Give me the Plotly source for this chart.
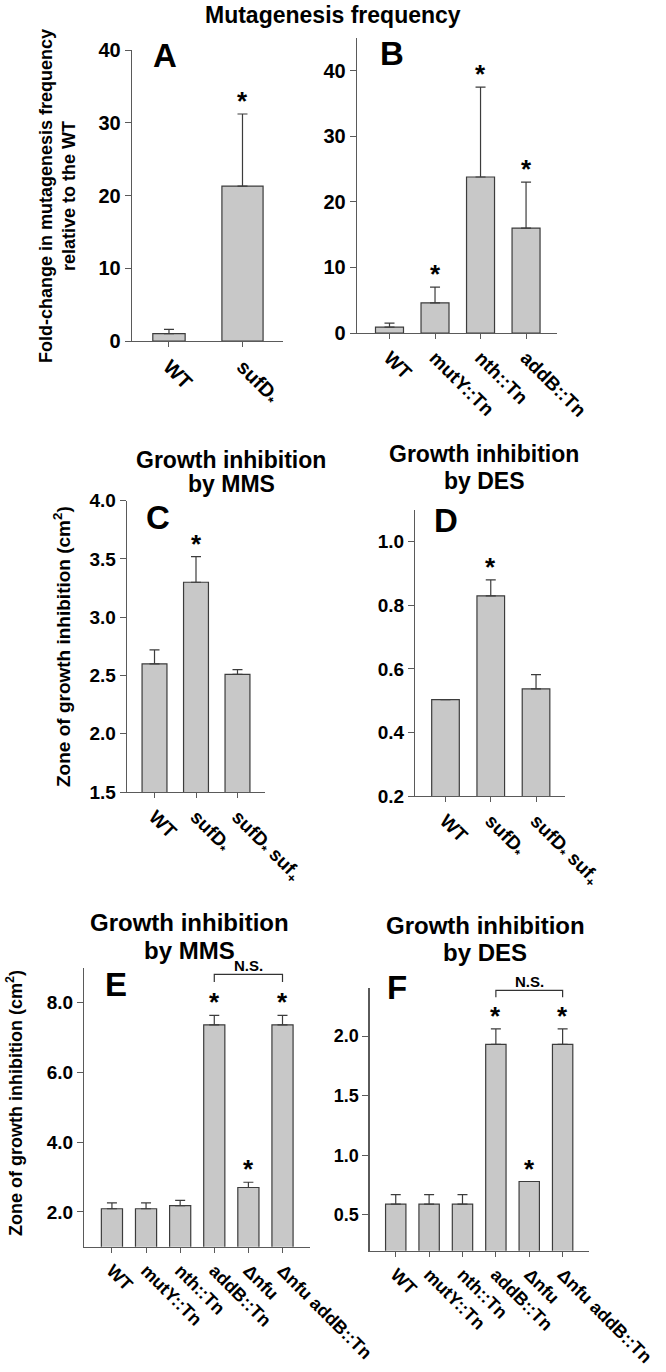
import plotly.graph_objects as go

W, H = 666, 1372

# ---------------- data ----------------
a_cats = ["WT", "sufD<sub>*</sub>"]
a_vals = [1.0, 21.3]
a_errs = [0.6, 9.9]
a_sig = [False, True]

b_cats = ["WT", "mutY::Tn", "nth::Tn", "addB::Tn"]
b_vals = [0.9, 4.6, 23.8, 16.0]
b_errs = [0.6, 2.4, 13.7, 7.0]
b_sig = [False, True, True, True]

c_cats = ["WT", "sufD<sub>*</sub>", "sufD<sub>*</sub> suf<sub>+</sub>"]
c_vals = [2.60, 3.30, 2.51]
c_errs = [0.12, 0.22, 0.04]
c_sig = [False, True, False]

d_cats = ["WT", "sufD<sub>*</sub>", "sufD<sub>*</sub> suf<sub>+</sub>"]
d_vals = [0.503, 0.83, 0.537]
d_errs = [None, 0.05, 0.045]
d_sig = [False, True, False]

e_cats = ["WT", "mutY::Tn", "nth::Tn", "addB::Tn", "Δnfu", "Δnfu addB::Tn"]
e_vals = [2.09, 2.09, 2.18, 7.37, 2.70, 7.37]
e_errs = [0.17, 0.17, 0.15, 0.27, 0.15, 0.27]
e_sig = [False, False, False, True, True, True]

f_cats = ["WT", "mutY::Tn", "nth::Tn", "addB::Tn", "Δnfu", "Δnfu addB::Tn"]
f_vals = [0.59, 0.59, 0.59, 1.93, 0.78, 1.93]
f_errs = [0.08, 0.08, 0.08, 0.13, None, 0.13]
f_sig = [False, False, False, True, True, True]

# N.S. comparison (bar indices) for E and F
ns_pair = [3, 5]

# ---------------- layout helpers ----------------
def dx(l, r):
    return [l / W, r / W]

def dy(t, b):
    return [1 - b / H, 1 - t / H]

FONT = "Liberation Sans"
BAR_FILL = "#c8c8c8"
BAR_LINE = "#3c3c3c"
AX = "#5a5a5a"

panels = [
    dict(cats=a_cats, vals=a_vals, errs=a_errs, sig=a_sig, xp=(132, 283), yp=(50, 341),
         xr=[-0.503, 1.551], yr=[0, 40], yt=[0, 10, 20, 30, 40], fmt="d",
         width=[0.44, 0.56], tf=20, xf=20),
    dict(cats=b_cats, vals=b_vals, errs=b_errs, sig=b_sig, xp=(357, 557), yp=(38, 333),
         xr=[-0.714, 3.68], yr=[0, 45], yt=[0, 10, 20, 30, 40], fmt="d",
         width=0.615, tf=20, xf=19),
    dict(cats=c_cats, vals=c_vals, errs=c_errs, sig=c_sig, xp=(127, 265), yp=(500.7, 792),
         xr=[-0.663, 2.663], yr=[1.5, 4.0], yt=[1.5, 2.0, 2.5, 3.0, 3.5, 4.0], fmt=".1f",
         width=0.6, tf=19, xf=19),
    dict(cats=d_cats, vals=d_vals, errs=d_errs, sig=d_sig, xp=(415.3, 565), yp=(510, 796),
         xr=[-0.667, 2.64], yr=[0.2, 1.1], yt=[0.2, 0.4, 0.6, 0.8, 1.0], fmt=".1f",
         width=0.61, tf=19, xf=19),
    dict(cats=e_cats, vals=e_vals, errs=e_errs, sig=e_sig, xp=(84.3, 310), yp=(968, 1246.7),
         xr=[-0.81, 5.806], yr=[1.0, 9.0], yt=[2, 4, 6, 8], fmt=".1f",
         width=0.62, tf=19, xf=18),
    dict(cats=f_cats, vals=f_vals, errs=f_errs, sig=f_sig, xp=(369.7, 589), yp=(988.3, 1250.7),
         xr=[-0.78, 5.79], yr=[0.2, 2.4], yt=[0.5, 1.0, 1.5, 2.0], fmt=".1f",
         width=0.61, tf=18, xf=18),
]

fig = go.Figure()
annotations = []
shapes = []

for i, p in enumerate(panels):
    k = "" if i == 0 else str(i + 1)
    xa, ya = "x" + k, "y" + k
    n = len(p["cats"])
    xs = list(range(n))
    errs = [e if e is not None else float("nan") for e in p["errs"]]
    fig.add_trace(go.Bar(
        x=xs, y=p["vals"], width=p["width"], xaxis=xa, yaxis=ya,
        marker=dict(color=BAR_FILL, line=dict(color=BAR_LINE, width=1.2)),
        error_y=dict(type="data", array=errs, arrayminus=[0] * n, symmetric=False,
                     color=BAR_LINE, thickness=1.2, width=5),
        hoverinfo="skip", showlegend=False,
    ))
    fig.layout["xaxis" + k] = dict(
        domain=dx(*p["xp"]), anchor=ya, range=p["xr"], tickmode="array",
        tickvals=xs, ticktext=p["cats"], tickangle=45, showline=True, linecolor=AX,
        linewidth=1.3, ticks="outside", ticklen=5, tickcolor=AX, showgrid=False,
        zeroline=False, automargin=False,
        tickfont=dict(family=FONT, size=p["xf"], color="black", weight="bold"),
        fixedrange=True,
    )
    fig.layout["yaxis" + k] = dict(
        domain=dy(*p["yp"]), anchor=xa, range=p["yr"], tickmode="array",
        tickvals=p["yt"], tickformat=p["fmt"], showline=True, linecolor=AX, linewidth=1.3,
        ticks="outside", ticklen=6, tickcolor=AX, showgrid=False, zeroline=False,
        automargin=False,
        tickfont=dict(family=FONT, size=p["tf"], color="black", weight="bold"),
        fixedrange=True,
    )
    for j in range(n):
        if p["sig"][j]:
            top = p["vals"][j] + (p["errs"][j] or 0)
            annotations.append(dict(
                x=j, y=top, xref=xa, yref=ya, text="*", showarrow=False,
                yanchor="bottom", yshift=-4,
                font=dict(family=FONT, size=26, color="black", weight="bold"),
            ))
    if i in (4, 5):
        a0, a1 = ns_pair
        t0 = p["vals"][a0] + p["errs"][a0]
        span = p["yr"][1] - p["yr"][0]
        lvl = t0 + span * 0.147
        low = t0 + span * 0.12
        shapes.append(dict(
            type="path", xref=xa, yref=ya,
            path=f"M {a0} {low} L {a0} {lvl} L {a1} {lvl} L {a1} {low}",
            line=dict(color="#333333", width=1.2),
        ))
        annotations.append(dict(
            x=(a0 + a1) / 2, y=lvl, xref=xa, yref=ya, text="N.S.", showarrow=False,
            yanchor="bottom", yshift=-2,
            font=dict(family=FONT, size=15, color="black", weight="bold"),
        ))

def ptext(txt, x, y, size, angle=0):
    annotations.append(dict(
        x=x / W, y=1 - y / H, xref="paper", yref="paper", text=txt, showarrow=False,
        xanchor="center", yanchor="middle", textangle=angle, borderpad=0,
        font=dict(family=FONT, size=size, color="black", weight="bold"),
    ))

ptext("Mutagenesis frequency", 333, 15, 23)
ptext("Growth inhibition", 231, 460, 23)
ptext("by MMS", 231, 484, 23)
ptext("Growth inhibition", 484, 454, 23)
ptext("by DES", 484, 481, 23)
ptext("Growth inhibition", 189, 923, 24)
ptext("by MMS", 189, 950, 24)
ptext("Growth inhibition", 485, 925, 24)
ptext("by DES", 485, 952, 24)

for letter, x, y in [("A", 165, 55), ("B", 392, 54), ("C", 158, 517),
                     ("D", 446, 520), ("E", 116, 984), ("F", 397, 987)]:
    ptext(letter, x, y, 33)

ptext("Fold-change in mutagenesis frequency<br>relative to the WT", 58, 196, 18, -90)
ptext("Zone of growth inhibition (cm<sup>2</sup>)", 62, 647, 19, -90)
ptext("Zone of growth inhibition (cm<sup>2</sup>)", 14, 1103, 18, -90)

fig.update_layout(
    width=W, height=H, margin=dict(l=0, r=0, t=0, b=0, autoexpand=False),
    paper_bgcolor="white", plot_bgcolor="white", showlegend=False,
    annotations=annotations, shapes=shapes, bargap=0,
)

fig.write_html(
    "out.html",
    config={"displayModeBar": False, "staticPlot": True},
    post_script="document.body.style.margin='0px';document.body.style.overflow='hidden';",
)
